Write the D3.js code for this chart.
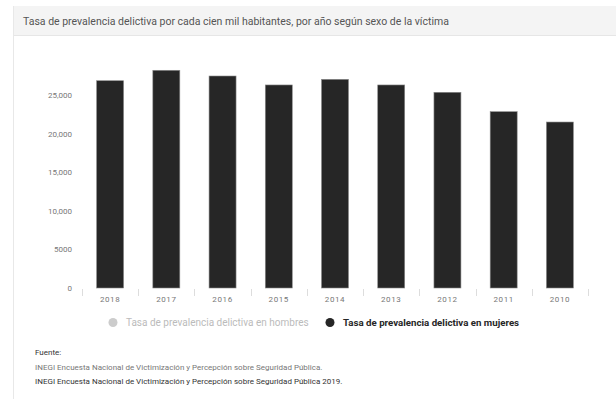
<!DOCTYPE html>
<html>
<head>
<meta charset="utf-8">
<script src="https://cdn.jsdelivr.net/npm/d3@7"></script>
<style>
  body { margin: 0; background: #fff; font-family: Roboto, "Open Sans", sans-serif; }
  svg { display: block; }
</style>
</head>
<body>
<svg width="616" height="399"></svg>
<script>
var years = ["2018", "2017", "2016", "2015", "2014", "2013", "2012", "2011", "2010"];
var mujeres = [26850, 28200, 27460, 26300, 27030, 26300, 25350, 22840, 21500];
var yTicks = [0, 5000, 10000, 15000, 20000, 25000];
var seriesNames = ["Tasa de prevalencia delictiva en hombres", "Tasa de prevalencia delictiva en mujeres"];
var titleText = "Tasa de prevalencia delictiva por cada cien mil habitantes, por año según sexo de la víctima";
var sourceLines = ["Fuente:",
  "INEGI Encuesta Nacional de Victimización y Percepción sobre Seguridad Pública.",
  "INEGI Encuesta Nacional de Victimización y Percepción sobre Seguridad Pública 2019."];

var svg = d3.select("svg"),
    width = 616,
    height = 399;

// card frame + header
svg.append("rect").attr("x", 13).attr("y", 6).attr("width", width - 13).attr("height", 30)
    .attr("fill", "#f4f4f4");
svg.append("line").attr("x1", 13).attr("x2", width).attr("y1", 35.5).attr("y2", 35.5)
    .attr("stroke", "#e6e6e6");
svg.append("line").attr("x1", 13.5).attr("x2", 13.5).attr("y1", 6).attr("y2", height)
    .attr("stroke", "#e8e8e8");
svg.append("text").attr("x", 23).attr("y", 24.5)
    .attr("font-size", 10.5).attr("fill", "#555")
    .text(titleText);

var x = d3.scaleBand()
    .domain(years)
    .range([82, 588])
    .paddingInner(0.52)
    .paddingOuter(0.26);

var y = d3.scaleLinear()
    .domain([0, 30000])
    .range([288, 56.4]);

// y labels
svg.append("g").selectAll("text")
    .data(yTicks)
    .enter().append("text")
    .attr("x", 72)
    .attr("y", function(d) { return y(d) + 3; })
    .attr("text-anchor", "end")
    .attr("font-size", 8)
    .attr("fill", "#777")
    .text(function(d) { return d < 10000 ? d : d3.format(",")(d); });

// bars
svg.append("g").selectAll("rect")
    .data(mujeres)
    .enter().append("rect")
    .attr("x", function(d, i) { return x(years[i]); })
    .attr("y", function(d) { return y(d); })
    .attr("width", x.bandwidth())
    .attr("height", function(d) { return y(0) - y(d); })
    .attr("fill", "#262626")
    .attr("stroke", "#8a8a8a")
    .attr("stroke-width", 0.6);

// band ticks
var step = x.step();
var edges = years.map(function(d) { return x(d) - x.paddingInner() * step / 2; });
edges.push(edges[edges.length - 1] + step);
svg.append("g").selectAll("line")
    .data(edges)
    .enter().append("line")
    .attr("x1", function(d) { return Math.round(d) + 0.5; })
    .attr("x2", function(d) { return Math.round(d) + 0.5; })
    .attr("y1", 289).attr("y2", 296)
    .attr("stroke", "#ddd");

svg.append("g").selectAll("text")
    .data(years)
    .enter().append("text")
    .attr("x", function(d) { return x(d) + x.bandwidth() / 2; })
    .attr("y", 302)
    .attr("text-anchor", "middle")
    .attr("font-size", 8)
    .attr("letter-spacing", 0.6)
    .attr("fill", "#777")
    .text(function(d) { return d; });

// legend
var legend = [
  { name: seriesNames[0], cx: 113, color: "#cccccc", text: "#bbbbbb", weight: "normal", size: 10 },
  { name: seriesNames[1], cx: 330, color: "#262626", text: "#262626", weight: "bold", size: 9.7 }
];
var lg = svg.append("g").selectAll("g")
    .data(legend)
    .enter().append("g");
lg.append("circle")
    .attr("cx", function(d) { return d.cx; })
    .attr("cy", 322.5)
    .attr("r", 4.5)
    .attr("fill", function(d) { return d.color; });
lg.append("text")
    .attr("x", function(d) { return d.cx + 13; })
    .attr("y", 326)
    .attr("font-size", function(d) { return d.size; })
    .attr("font-weight", function(d) { return d.weight; })
    .attr("fill", function(d) { return d.text; })
    .text(function(d) { return d.name; });

// source
svg.append("g").selectAll("text")
    .data(sourceLines)
    .enter().append("text")
    .attr("x", 35)
    .attr("y", function(d, i) { return 355 + i * 14.5; })
    .attr("font-size", 8)
    .attr("fill", function(d, i) { return i === 1 ? "#777" : "#333"; })
    .text(function(d) { return d; });
</script>
</body>
</html>
